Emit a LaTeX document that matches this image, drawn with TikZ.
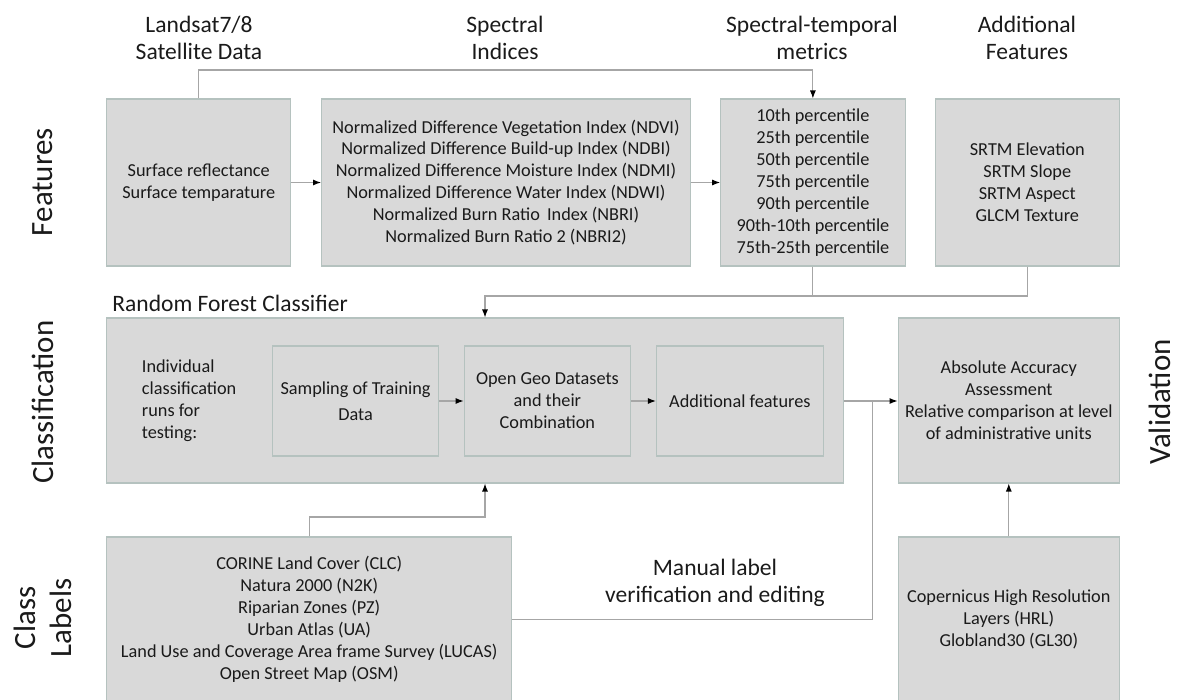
\documentclass[tikz,border=0pt]{standalone}
\usepackage{fontspec}
\setmainfont{Carlito}
\usetikzlibrary{arrows.meta,positioning}
\definecolor{boxfill}{HTML}{D9D9D9}
\definecolor{boxline}{HTML}{B5C2BF}
\definecolor{wirecol}{HTML}{A6A6A6}
\definecolor{ink}{HTML}{1A1A1A}

\begin{document}
\begin{tikzpicture}[x=0.02cm,y=-0.02cm,
  box/.style={draw=boxline,fill=boxfill,line width=0.6pt,align=center,inner sep=0pt,text=ink,font=\fontsize{10.4}{12.5}\selectfont},
  head/.style={align=center,inner sep=0pt,font=\fontsize{13.4}{15.4}\selectfont,text=ink},
  side/.style={rotate=90,align=center,inner sep=0pt,font=\fontsize{17.6}{20.5}\selectfont,text=ink},
  wire/.style={draw=wirecol,line width=0.6pt},
  arr/.style={wire,-{Latex[length=1.6mm,width=1.2mm,color=black]}}]
\useasboundingbox (0,0) rectangle (1177,700);
% column heads
\node[head] (hsat) at (199,38) {Landsat7/8\\Satellite Data};
\node[head] (hidx) at (505,38) {Spectral\\Indices};
\node[head] (hstm) at (812,38) {Spectral-temporal\\metrics};
\node[head] (hextra) at (1027,38) {Additional\\Features};
% row labels
\node[side] (tfeat) at (43,182) {Features};
\node[side] (tclass) at (43,402) {Classification};
\node[side] (tlab) at (43,618) {Class\\Labels};
\node[side] (tval) at (1160,402) {Validation};
% features
\node[box,minimum width=3.69cm,minimum height=3.34cm] (sat) at (198.7,182.5) {Surface reflectance\\Surface temparature};
\node[box,minimum width=7.38cm,minimum height=3.34cm] (idx) at (506,182.5) {Normalized Difference Vegetation Index (NDVI)\\Normalized Difference Build-up Index (NDBI)\\Normalized Difference Moisture Index (NDMI)\\Normalized Difference Water Index (NDWI)\\Normalized Burn Ratio\ \,Index (NBRI)\\Normalized Burn Ratio 2 (NBRI2)};
\node[box,minimum width=3.69cm,minimum height=3.34cm] (stm) at (812.9,182.5) {10th percentile\\25th percentile\\50th percentile\\75th percentile\\90th percentile\\90th-10th percentile\\75th-25th percentile};
\node[box,minimum width=3.69cm,minimum height=3.34cm] (extra) at (1027.3,182.5) {SRTM Elevation\\SRTM Slope\\SRTM Aspect\\GLCM Texture};
% classification
\node[head,anchor=west] (trf) at (112,303) {Random Forest Classifier};
\node[box,minimum width=14.75cm,minimum height=3.3cm] (rf) at (475.2,400.5) {};
\node[align=left,anchor=west,inner sep=0pt,text=ink,font=\fontsize{10.4}{12.5}\selectfont] (truns) at (141.6,401) {Individual\\classification\\runs for\\testing:};
\node[box,minimum width=3.32cm,minimum height=2.2cm] (samp) at (355.6,401) {Sampling of Training\\[2pt]Data};
\node[box,minimum width=3.33cm,minimum height=2.2cm] (geo) at (547.4,401) {Open Geo Datasets\\and their\\Combination};
\node[box,minimum width=3.34cm,minimum height=2.2cm] (feat) at (739.9,401) {Additional features};
\node[box,minimum width=4.43cm,minimum height=3.3cm] (val) at (1008.8,400.5) {Absolute Accuracy\\Assessment\\Relative comparison at level\\of administrative units};
% class labels
\node[box,minimum width=8.11cm,minimum height=3.3cm] (lab) at (309.2,619.5) {CORINE Land Cover (CLC)\\Natura 2000 (N2K)\\Riparian Zones (PZ)\\Urban Atlas (UA)\\Land Use and Coverage Area frame Survey (LUCAS)\\Open Street Map (OSM)};
\node[box,minimum width=4.43cm,minimum height=3.3cm] (cop) at (1008.8,619.5) {Copernicus High Resolution\\Layers (HRL)\\Globland30 (GL30)};
\node[head] (tmanual) at (715,583) {Manual label\\verification and editing};
% connectors
\coordinate (top) at (0,70);
\coordinate (join) at (485,296);
\coordinate (split) at (872.5,401);
\coordinate (up) at (485,517);
\draw[arr] (sat.north) -- (sat.north |- top) -| (stm.north);
\draw[arr] (sat.east) -- (idx.west);
\draw[arr] (idx.east) -- (stm.west);
\draw[wire] (stm.south) -- (stm.south |- join);
\draw[arr] (extra.south) |- (join) -- (join |- rf.north);
\draw[arr] (samp.east) -- (geo.west);
\draw[arr] (geo.east) -- (feat.west);
\draw[arr] (rf.east |- split) -- (val.west |- split);
\draw[wire] (lab.east) -| (split);
\draw[arr] (lab.north) |- (up) -- (up |- rf.south);
\draw[arr] (cop.north) -- (val.south);
\end{tikzpicture}
\end{document}
